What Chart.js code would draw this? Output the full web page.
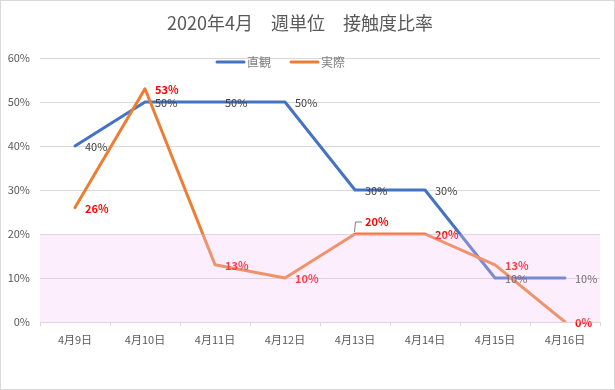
<!DOCTYPE html>
<html>
<head>
<meta charset="utf-8">
<script src="https://cdn.jsdelivr.net/npm/chart.js@4"></script>
<style>
  body { margin: 0; background: #fff; }
</style>
</head>
<body>
<canvas id="chart" width="615" height="390"></canvas>
<script>
// --- data ---
const titleText = "2020年4月　週単位　接触度比率";
const days = ["4月9日", "4月10日", "4月11日", "4月12日", "4月13日", "4月14日", "4月15日", "4月16日"];
const intuition = [40, 50, 50, 50, 30, 30, 10, 10]; // 直観
const actual = [26, 53, 13, 10, 20, 20, 13, 0];     // 実際
const seriesNames = ["直観", "実際"];
const bandMax = 20; // pink zone 0-20%
const yTicks = { min: 0, max: 60, step: 10 };

const FONT = "'Noto Sans CJK JP', 'Noto Sans', sans-serif";
const BLUE = "#4472C4";
const ORANGE = "#ED7D31";

// frame, labels, legend and the pink band on top
const decorPlugin = {
  id: "decor",
  beforeDraw(chart) {
    const ctx = chart.ctx;
    ctx.save();
    ctx.fillStyle = "#fff";
    ctx.fillRect(0, 0, chart.width, chart.height);
    ctx.restore();
  },
  afterDatasetsDraw(chart) {
    const ctx = chart.ctx;
    const area = chart.chartArea;
    const y = chart.scales.y;
    ctx.save();

    // data labels
    chart.data.datasets.forEach((ds, di) => {
      const meta = chart.getDatasetMeta(di);
      meta.data.forEach((pt, i) => {
        const txt = ds.data[i] + "%";
        let lx = pt.x + 10;
        let ly = pt.y + 1;
        if (di === 1) {
          ctx.font = "bold 11px " + FONT;
          ctx.fillStyle = "#FF0000";
          if (i === 4) {
            // label lifted above the line with a small leader
            ly = pt.y - 12;
            ctx.strokeStyle = "#7f7f7f";
            ctx.lineWidth = 1;
            ctx.beginPath();
            ctx.moveTo(pt.x - 0.5, pt.y - 2);
            ctx.lineTo(pt.x + 0.5, ly);
            ctx.lineTo(pt.x + 7, ly);
            ctx.stroke();
          }
        } else {
          ctx.font = "11px " + FONT;
          ctx.fillStyle = "#404040";
        }
        ctx.textAlign = "left";
        ctx.textBaseline = "middle";
        ctx.fillText(txt, lx, ly);
      });
    });

    // translucent pink band drawn over everything below 20%
    const top = y.getPixelForValue(bandMax);
    const bottom = y.getPixelForValue(0);
    ctx.fillStyle = "rgba(245, 198, 245, 0.3)";
    ctx.fillRect(area.left, top, area.right - area.left, bottom - top + 1);

    // legend
    const items = [
      { x: 217, color: BLUE, name: seriesNames[0] },
      { x: 291, color: ORANGE, name: seriesNames[1] }
    ];
    ctx.font = "12px " + FONT;
    ctx.textBaseline = "middle";
    items.forEach(it => {
      ctx.strokeStyle = it.color;
      ctx.lineWidth = 3;
      ctx.lineCap = "round";
      ctx.beginPath();
      ctx.moveTo(it.x, 62);
      ctx.lineTo(it.x + 27, 62);
      ctx.stroke();
      ctx.fillStyle = "#7f7f7f";
      ctx.fillText(it.name, it.x + 30, 62);
    });

    // outer frame
    ctx.strokeStyle = "#D9D9D9";
    ctx.lineWidth = 1;
    ctx.strokeRect(0.5, 0.5, chart.width - 1, chart.height - 1);
    ctx.restore();
  }
};

new Chart(document.getElementById("chart"), {
  type: "line",
  data: {
    labels: days,
    datasets: [
      {
        label: seriesNames[0],
        data: intuition,
        borderColor: BLUE,
        borderWidth: 3,
        pointRadius: 0,
        borderJoinStyle: "round",
        borderCapStyle: "round",
        tension: 0,
        order: 1
      },
      {
        label: seriesNames[1],
        data: actual,
        borderColor: ORANGE,
        borderWidth: 3,
        pointRadius: 0,
        borderJoinStyle: "round",
        borderCapStyle: "round",
        tension: 0,
        order: 0
      }
    ]
  },
  options: {
    responsive: false,
    animation: false,
    layout: { padding: { left: 0, right: 15, top: 0, bottom: 0 } },
    plugins: {
      legend: { display: false },
      tooltip: { enabled: false },
      title: {
        display: true,
        text: titleText,
        color: "#595959",
        font: { family: FONT, size: 18, weight: "normal" },
        padding: { top: 12, bottom: 24.4 }
      }
    },
    scales: {
      x: {
        offset: true,
        grid: {
          drawOnChartArea: false,
          drawTicks: true,
          tickLength: 4,
          color: "#D9D9D9",
          offset: true
        },
        border: { color: "#D9D9D9" },
        ticks: {
          color: "#595959",
          font: { family: FONT, size: 11 },
          padding: 7,
          maxRotation: 0
        },
        afterFit(scale) { scale.height = 68; }
      },
      y: {
        min: yTicks.min,
        max: yTicks.max,
        grid: { color: "#D9D9D9", drawTicks: false },
        border: { display: false },
        ticks: {
          stepSize: yTicks.step,
          color: "#595959",
          font: { family: FONT, size: 11 },
          padding: 10,
          callback: v => v + "%"
        },
        afterFit(scale) { scale.width = 40; }
      }
    }
  },
  plugins: [decorPlugin]
});
</script>
</body>
</html>
